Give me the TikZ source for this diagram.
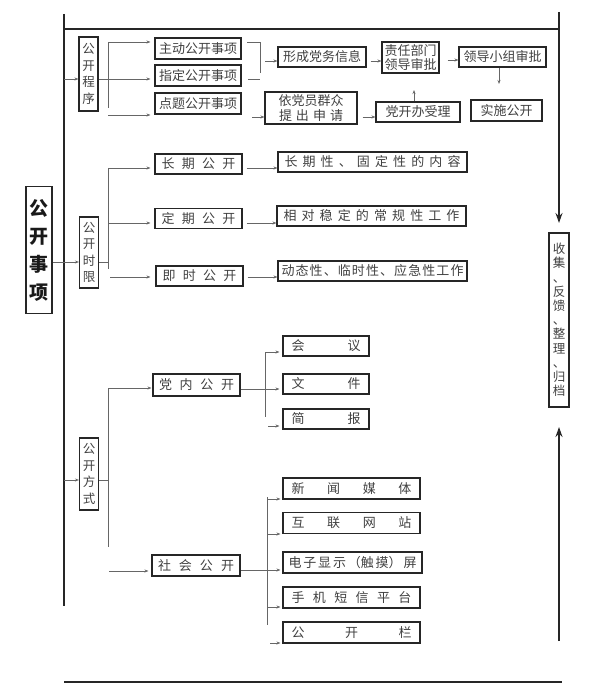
\documentclass[tikz,border=0pt]{standalone}
\usepackage{fontspec}
\setmainfont{Noto Sans CJK SC}
\usetikzlibrary{arrows.meta}
\tikzset{
  box/.style={draw=black!85, line width=1.1pt, inner sep=0pt, text=black!75,
    font=\fontsize{13}{14.5}\selectfont, align=center},
  vbox/.style={box, minimum width=19, font=\fontsize{12.5}{16.5}\selectfont},
  conn/.style={draw=black!60, line width=0.6pt, -{Stealth[length=4pt,width=3pt]}},
  plain/.style={draw=black!60, line width=0.6pt},
  frame/.style={draw=black!85, line width=1.3pt},
  bigarrow/.style={frame, -{Stealth[length=10pt,width=7pt]}}
}
\newcommand{\spr}[2]{\makebox[#1pt][s]{#2}}
\begin{document}
\begin{tikzpicture}[x=1pt,y=-1pt]
\useasboundingbox (0,0) rectangle (602,700);

% frame lines
\coordinate (fl1) at (64,14);
\coordinate (fl2) at (64,606);
\coordinate (ft1) at (64,29);
\coordinate (ft2) at (559,29);
\coordinate (fr1) at (559,12);
\coordinate (fr2) at (559,223);
\coordinate (fr3) at (559,641);
\coordinate (fr4) at (559,427);
\coordinate (fb1) at (64,682);
\coordinate (fb2) at (562,682);
\draw[frame] (fl1) -- (fl2);
\draw[frame] (ft1) -- (ft2);
\draw[frame] (fb1) -- (fb2);
\draw[bigarrow] (fr1) -- (fr2);
\draw[bigarrow] (fr3) -- (fr4);

% main nodes
\node[box, minimum width=26, minimum height=127, font=\fontsize{19}{28}\selectfont\bfseries, text=black!90] (gksx) at (39,250) {公\\开\\事\\项};
\node[vbox, minimum height=74] (cx) at (88.5,74) {公\\开\\程\\序};
\node[vbox, minimum height=71] (sx) at (89,252.5) {公\\开\\时\\限};
\node[vbox, minimum height=72] (fs) at (89,474) {公\\开\\方\\式};
\node[box, minimum width=20, minimum height=174, font=\fontsize{12.5}{14.2}\selectfont] (sj) at (559,320) {收\\集\\、\\反\\馈\\、\\整\\理\\、\\归\\档};

% procedure
\node[box, minimum width=86, minimum height=21] (zd) at (198,48.5) {主动公开事项};
\node[box, minimum width=86, minimum height=21] (zding) at (198,75.5) {指定公开事项};
\node[box, minimum width=86, minimum height=21] (dt) at (198,103.5) {点题公开事项};
\node[box, minimum width=88, minimum height=20] (xc) at (322,57) {形成党务信息};
\node[box, minimum width=57, minimum height=31] (zr) at (410.5,57.5) {责任部门\\领导审批};
\node[box, minimum width=87, minimum height=20] (ld) at (502.5,57) {领导小组审批};
\node[box, minimum width=71, minimum height=21] (ss) at (506.5,110.5) {实施公开};
\node[box, minimum width=84, minimum height=20] (dk) at (418,112) {党开办受理};
\node[box, minimum width=92, minimum height=32] (yd) at (311,108) {依党员群众\\\spr{64}{提\hfill 出\hfill 申\hfill 请}};

% time limits
\node[box, minimum width=87, minimum height=20] (cq) at (198.5,164) {\spr{74}{长\hfill 期\hfill 公\hfill 开}};
\node[box, minimum width=87, minimum height=20] (dq) at (198.5,218.5) {\spr{74}{定\hfill 期\hfill 公\hfill 开}};
\node[box, minimum width=87, minimum height=20] (js) at (199.5,276) {\spr{74}{即\hfill 时\hfill 公\hfill 开}};
\node[box, minimum width=189, minimum height=20] (cqn) at (372.5,162) {\spr{176}{长\hfill 期\hfill 性\hfill 、\hfill 固\hfill 定\hfill 性\hfill 的\hfill 内\hfill 容}};
\node[box, minimum width=189, minimum height=20] (dqn) at (371.5,216) {\spr{176}{相\hfill 对\hfill 稳\hfill 定\hfill 的\hfill 常\hfill 规\hfill 性\hfill 工\hfill 作}};
\node[box, minimum width=189, minimum height=20] (jsn) at (372.5,271) {\spr{182}{动\hfill 态\hfill 性\hfill 、\hfill 临\hfill 时\hfill 性\hfill 、\hfill 应\hfill 急\hfill 性\hfill 工\hfill 作}};

% methods
\node[box, minimum width=87, minimum height=22] (dn) at (196.5,385) {\spr{75}{党\hfill 内\hfill 公\hfill 开}};
\node[box, minimum width=88, minimum height=21] (sh) at (196,565.5) {\spr{76}{社\hfill 会\hfill 公\hfill 开}};
\node[box, minimum width=86, minimum height=20] (hy) at (326,346) {\spr{69}{会\hfill 议}};
\node[box, minimum width=86, minimum height=20] (wj) at (326,384) {\spr{69}{文\hfill 件}};
\node[box, minimum width=86, minimum height=20] (jb) at (326,419) {\spr{69}{简\hfill 报}};
\node[box, minimum width=137, minimum height=21] (xw) at (351.5,488.5) {\spr{120}{新\hfill 闻\hfill 媒\hfill 体}};
\node[box, minimum width=137, minimum height=21] (hl) at (351.5,523) {\spr{120}{互\hfill 联\hfill 网\hfill 站}};
\node[box, minimum width=139, minimum height=21] (dz) at (352.5,562.5) {\spr{128}{电\hfill 子\hfill 显\hfill 示\hfill （触\hfill 摸）\hfill 屏}};
\node[box, minimum width=137, minimum height=21] (sjd) at (351.5,597.5) {\spr{120}{手\hfill 机\hfill 短\hfill 信\hfill 平\hfill 台}};
\node[box, minimum width=137, minimum height=21] (gkl) at (351.5,632.5) {\spr{120}{公\hfill 开\hfill 栏}};

% ---------- connectors: top level
\draw[conn] (64,79) -- (cx.west |- 0,79);
\draw[conn] (gksx.east |- 0,262) -- (sx.west |- 0,262);
\draw[conn] (64,480) -- (fs.west |- 0,480);

% procedure branch
\coordinate (pb1) at (108,42);
\coordinate (pb2) at (108,108);
\coordinate (pb3) at (108,115);
\draw[plain] (pb1) -- (pb2);
\draw[conn, shorten >=4pt] (pb1) -- (zd.west |- pb1);
\draw[conn, shorten >=4pt] (cx.east |- 0,79) -- (zding.west |- 0,79);
\draw[conn, shorten >=4pt] (pb3) -- (dt.west |- pb3);
% bracket
\coordinate (br1) at (247,42);
\coordinate (br2) at (260,42);
\coordinate (br3) at (260,73);
\coordinate (br4) at (248,79);
\coordinate (br5) at (260,79);
\coordinate (br6) at (265,61);
\draw[plain] (br1) -- (br2) -- (br3);
\draw[plain] (br4) -- (br5);
\draw[conn] (br6) -- (xc.west |- br6);
\draw[conn, shorten <=4pt] (xc.east |- 0,61) -- (zr.west |- 0,61);
\draw[conn, shorten <=8pt] (zr.east |- 0,60) -- (ld.west |- 0,60);
\coordinate (lds) at (499,84);
\draw[conn] (ld.south -| lds) -- (lds);
\coordinate (dku) at (414,90);
\draw[conn] (dk.north -| dku) -- (dku);
\coordinate (ydin) at (252,117);
\draw[conn] (ydin) -- (yd.west |- ydin);
\draw[conn, shorten <=5pt] (yd.east |- 0,117) -- (dk.west |- 0,117);

% time branch
\coordinate (tb1) at (108,168);
\coordinate (tb2) at (108,269);
\coordinate (tb3) at (108,223);
\coordinate (tb4) at (110,277);
\draw[plain] (tb1) -- (tb2);
\draw[plain] (sx.east |- 0,262) -- (108,262);
\draw[conn, shorten >=4pt] (tb1) -- (cq.west |- tb1);
\draw[conn, shorten >=4pt] (tb3) -- (dq.west |- tb3);
\draw[conn, shorten >=5pt] (tb4) -- (js.west |- tb4);
\draw[conn, shorten <=4pt] (cq.east |- 0,168) -- (cqn.west |- 0,168);
\draw[conn, shorten <=4pt] (dq.east |- 0,223) -- (dqn.west |- 0,223);
\draw[conn, shorten <=4pt] (js.east |- 0,277) -- (jsn.west |- 0,277);

% method branch
\coordinate (mb1) at (108,388);
\coordinate (mb2) at (108,547);
\coordinate (mb3) at (109,571);
\draw[plain] (mb1) -- (mb2);
\draw[plain] (fs.east |- 0,480) -- (108,480);
\draw[conn, shorten >=1pt] (mb1) -- (dn.west |- mb1);
\draw[conn, shorten >=3pt] (mb3) -- (sh.west |- mb3);

% party internal
\coordinate (db1) at (265,352);
\coordinate (db2) at (265,417);
\coordinate (db3) at (268,426);
\draw[plain] (db1) -- (db2);
\draw[conn, shorten >=3pt] (db1) -- (hy.west |- db1);
\draw[conn, shorten >=3pt] (dn.east |- 0,389) -- (wj.west |- 0,389);
\draw[conn, shorten >=3pt] (db3) -- (jb.west |- db3);

% society
\coordinate (sb1) at (267,497);
\coordinate (sb2) at (267,625);
\coordinate (sa1) at (267,499);
\coordinate (sa2) at (267,534);
\coordinate (sa4) at (267,607);
\coordinate (sa5) at (270,643);
\draw[plain] (sb1) -- (sb2);
\draw[conn, shorten >=2pt] (sa1) -- (xw.west |- sa1);
\draw[conn, shorten >=2pt] (sa2) -- (hl.west |- sa2);
\draw[conn, shorten >=2pt] (sh.east |- 0,570) -- (dz.west |- 0,570);
\draw[conn, shorten >=2pt] (sa4) -- (sjd.west |- sa4);
\draw[conn, shorten >=2pt] (sa5) -- (gkl.west |- sa5);
\end{tikzpicture}
\end{document}
